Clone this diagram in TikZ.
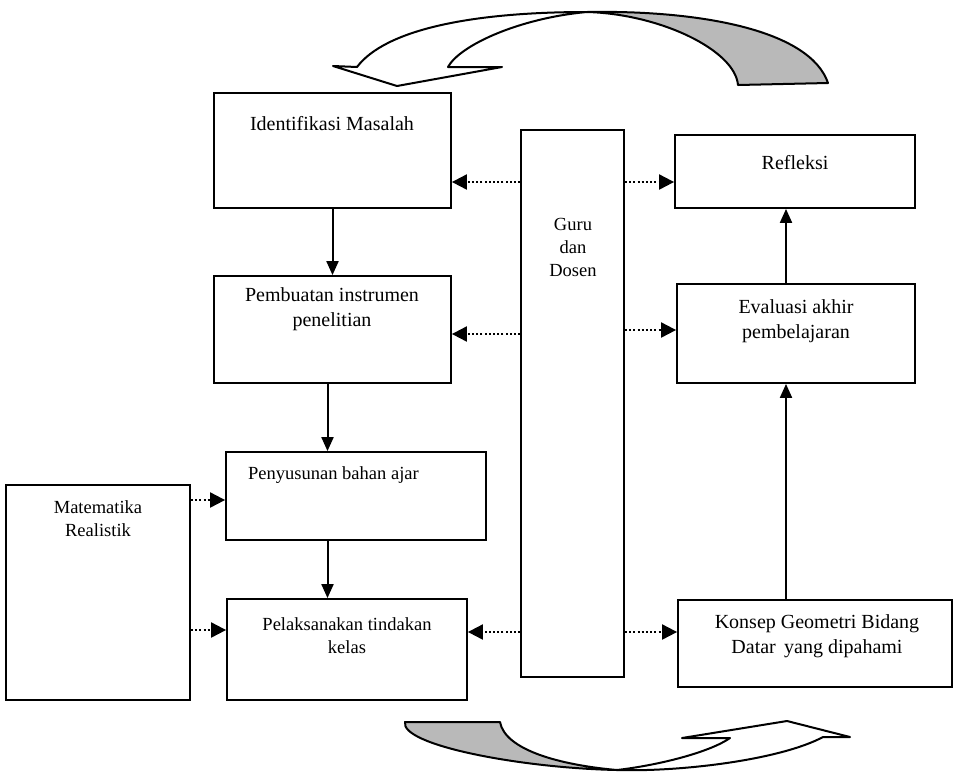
\documentclass[tikz,border=0pt]{standalone}
\usepackage{fontspec}
\setmainfont{Liberation Serif}
\usepackage{tikz}
\usetikzlibrary{arrows.meta,positioning}

\begin{document}
\begin{tikzpicture}[x=1pt,y=-1pt,
    box/.style={draw, line width=1.8pt, inner sep=0pt},
    lbl/.style={font=\fontsize{20}{25}\selectfont, align=center, inner sep=0pt},
    lblsm/.style={font=\fontsize{18.5}{23}\selectfont, align=center, inner sep=0pt},
    flow/.style={line width=2pt, -{Triangle[length=14pt,width=12pt]}},
    link/.style={line width=2pt, dash pattern=on 2pt off 2.2pt, -{Triangle[length=15pt,width=15pt]}},
    ribbon/.style={line width=2pt, line join=round}]
    \useasboundingbox (0,0) rectangle (958,772);

    % boxes left column
    \node[box, minimum width=237pt, minimum height=115pt] (idm) at (332.5,150.5) {};
    \node[box, minimum width=237pt, minimum height=107pt] (pbi) at (332.5,329.5) {};
    \node[box, minimum width=260pt, minimum height=88pt] (pba) at (356,496) {};
    \node[box, minimum width=240pt, minimum height=101pt] (plk) at (347,649.5) {};
    \node[box, minimum width=184pt, minimum height=215pt] (mat) at (98,592.5) {};

    % middle
    \node[box, minimum width=103pt, minimum height=547pt] (guru) at (572.5,403.5) {};

    % boxes right column
    \node[box, minimum width=240pt, minimum height=73pt] (ref) at (795,171.5) {};
    \node[box, minimum width=238pt, minimum height=99pt] (eva) at (796,333.5) {};
    \node[box, minimum width=274pt, minimum height=87pt] (kon) at (815,643.5) {};

    % texts
    \node[lbl] (tidm) at (332,124) {Identifikasi Masalah};
    \node[lbl] (tpbi) at (332,309) {Pembuatan instrumen\\penelitian};
    \node[lblsm, anchor=west] (tpba) at (248,475) {Penyusunan bahan ajar};
    \node[lblsm] (tplk) at (347,636) {Pelaksanakan tindakan\\kelas};
    \node[lblsm] (tmat) at (98,519) {Matematika\\Realistik};
    \node[lblsm] (tguru) at (573,247) {Guru\\dan\\Dosen};
    \node[lbl] (tref) at (795,163) {Refleksi};
    \node[lbl] (teva) at (796,321) {Evaluasi akhir\\pembelajaran};
    \node[lbl] (tkon) at (817,636) {Konsep Geometri Bidang\\Datar\, yang dipahami};

    % rows of the dotted links
    \coordinate (r1) at (0,182);
    \coordinate (r2) at (0,334);
    \coordinate (r3) at (0,330);
    \coordinate (r4) at (0,500);
    \coordinate (r5) at (0,630);
    \coordinate (r6) at (0,632);

    % solid flow
    \draw[flow] (idm.south) -- (pbi.north);
    \draw[flow] ([xshift=-5pt]pbi.south) -- ([xshift=-5pt]pbi.south |- pba.north);
    \draw[flow] ([xshift=-5pt]pbi.south |- pba.south) -- ([xshift=-5pt]pbi.south |- plk.north);
    \draw[flow] ([xshift=-29pt]kon.north) -- ([xshift=-29pt]kon.north |- eva.south);
    \draw[flow] ([xshift=-29pt]kon.north |- eva.north) -- ([xshift=-29pt]kon.north |- ref.south);

    % dotted links from guru dan dosen
    \draw[link] (guru.west |- r1) -- (idm.east |- r1);
    \draw[link] (guru.east |- r1) -- (ref.west |- r1);
    \draw[link] (guru.west |- r2) -- (pbi.east |- r2);
    \draw[link] (guru.east |- r3) -- (eva.west |- r3);
    \draw[link] (guru.west |- r6) -- (plk.east |- r6);
    \draw[link] (guru.east |- r6) -- (kon.west |- r6);

    % dotted links from matematika realistik
    \draw[link] (mat.east |- r4) -- (pba.west |- r4);
    \draw[link] (mat.east |- r5) -- (plk.west |- r5);

    % cycle arrow top
    \path[draw, ribbon, fill=white] (587,12) .. controls (470,12) and (385,30) .. (357,67) -- (333,66) -- (397,86) -- (502,67) -- (448,67) .. controls (460,45) and (520,18) .. (587,12) -- cycle;
    \path[draw, ribbon, fill=gray!55] (587,12) .. controls (700,10) and (810,30) .. (828,83) -- (738,85) .. controls (735,50) and (660,14) .. (587,12) -- cycle;

    % cycle arrow bottom
    \path[draw, ribbon, fill=gray!55] (405,722) -- (500,722) .. controls (505,750) and (560,765) .. (617,770) .. controls (520,768) and (400,745) .. (405,722) -- cycle;
    \path[draw, ribbon, fill=white] (617,770) .. controls (660,765) and (710,752) .. (730,738) -- (682,738) -- (787,721) -- (850,737) -- (823,737) .. controls (780,760) and (680,772) .. (617,770) -- cycle;
\end{tikzpicture}
\end{document}
